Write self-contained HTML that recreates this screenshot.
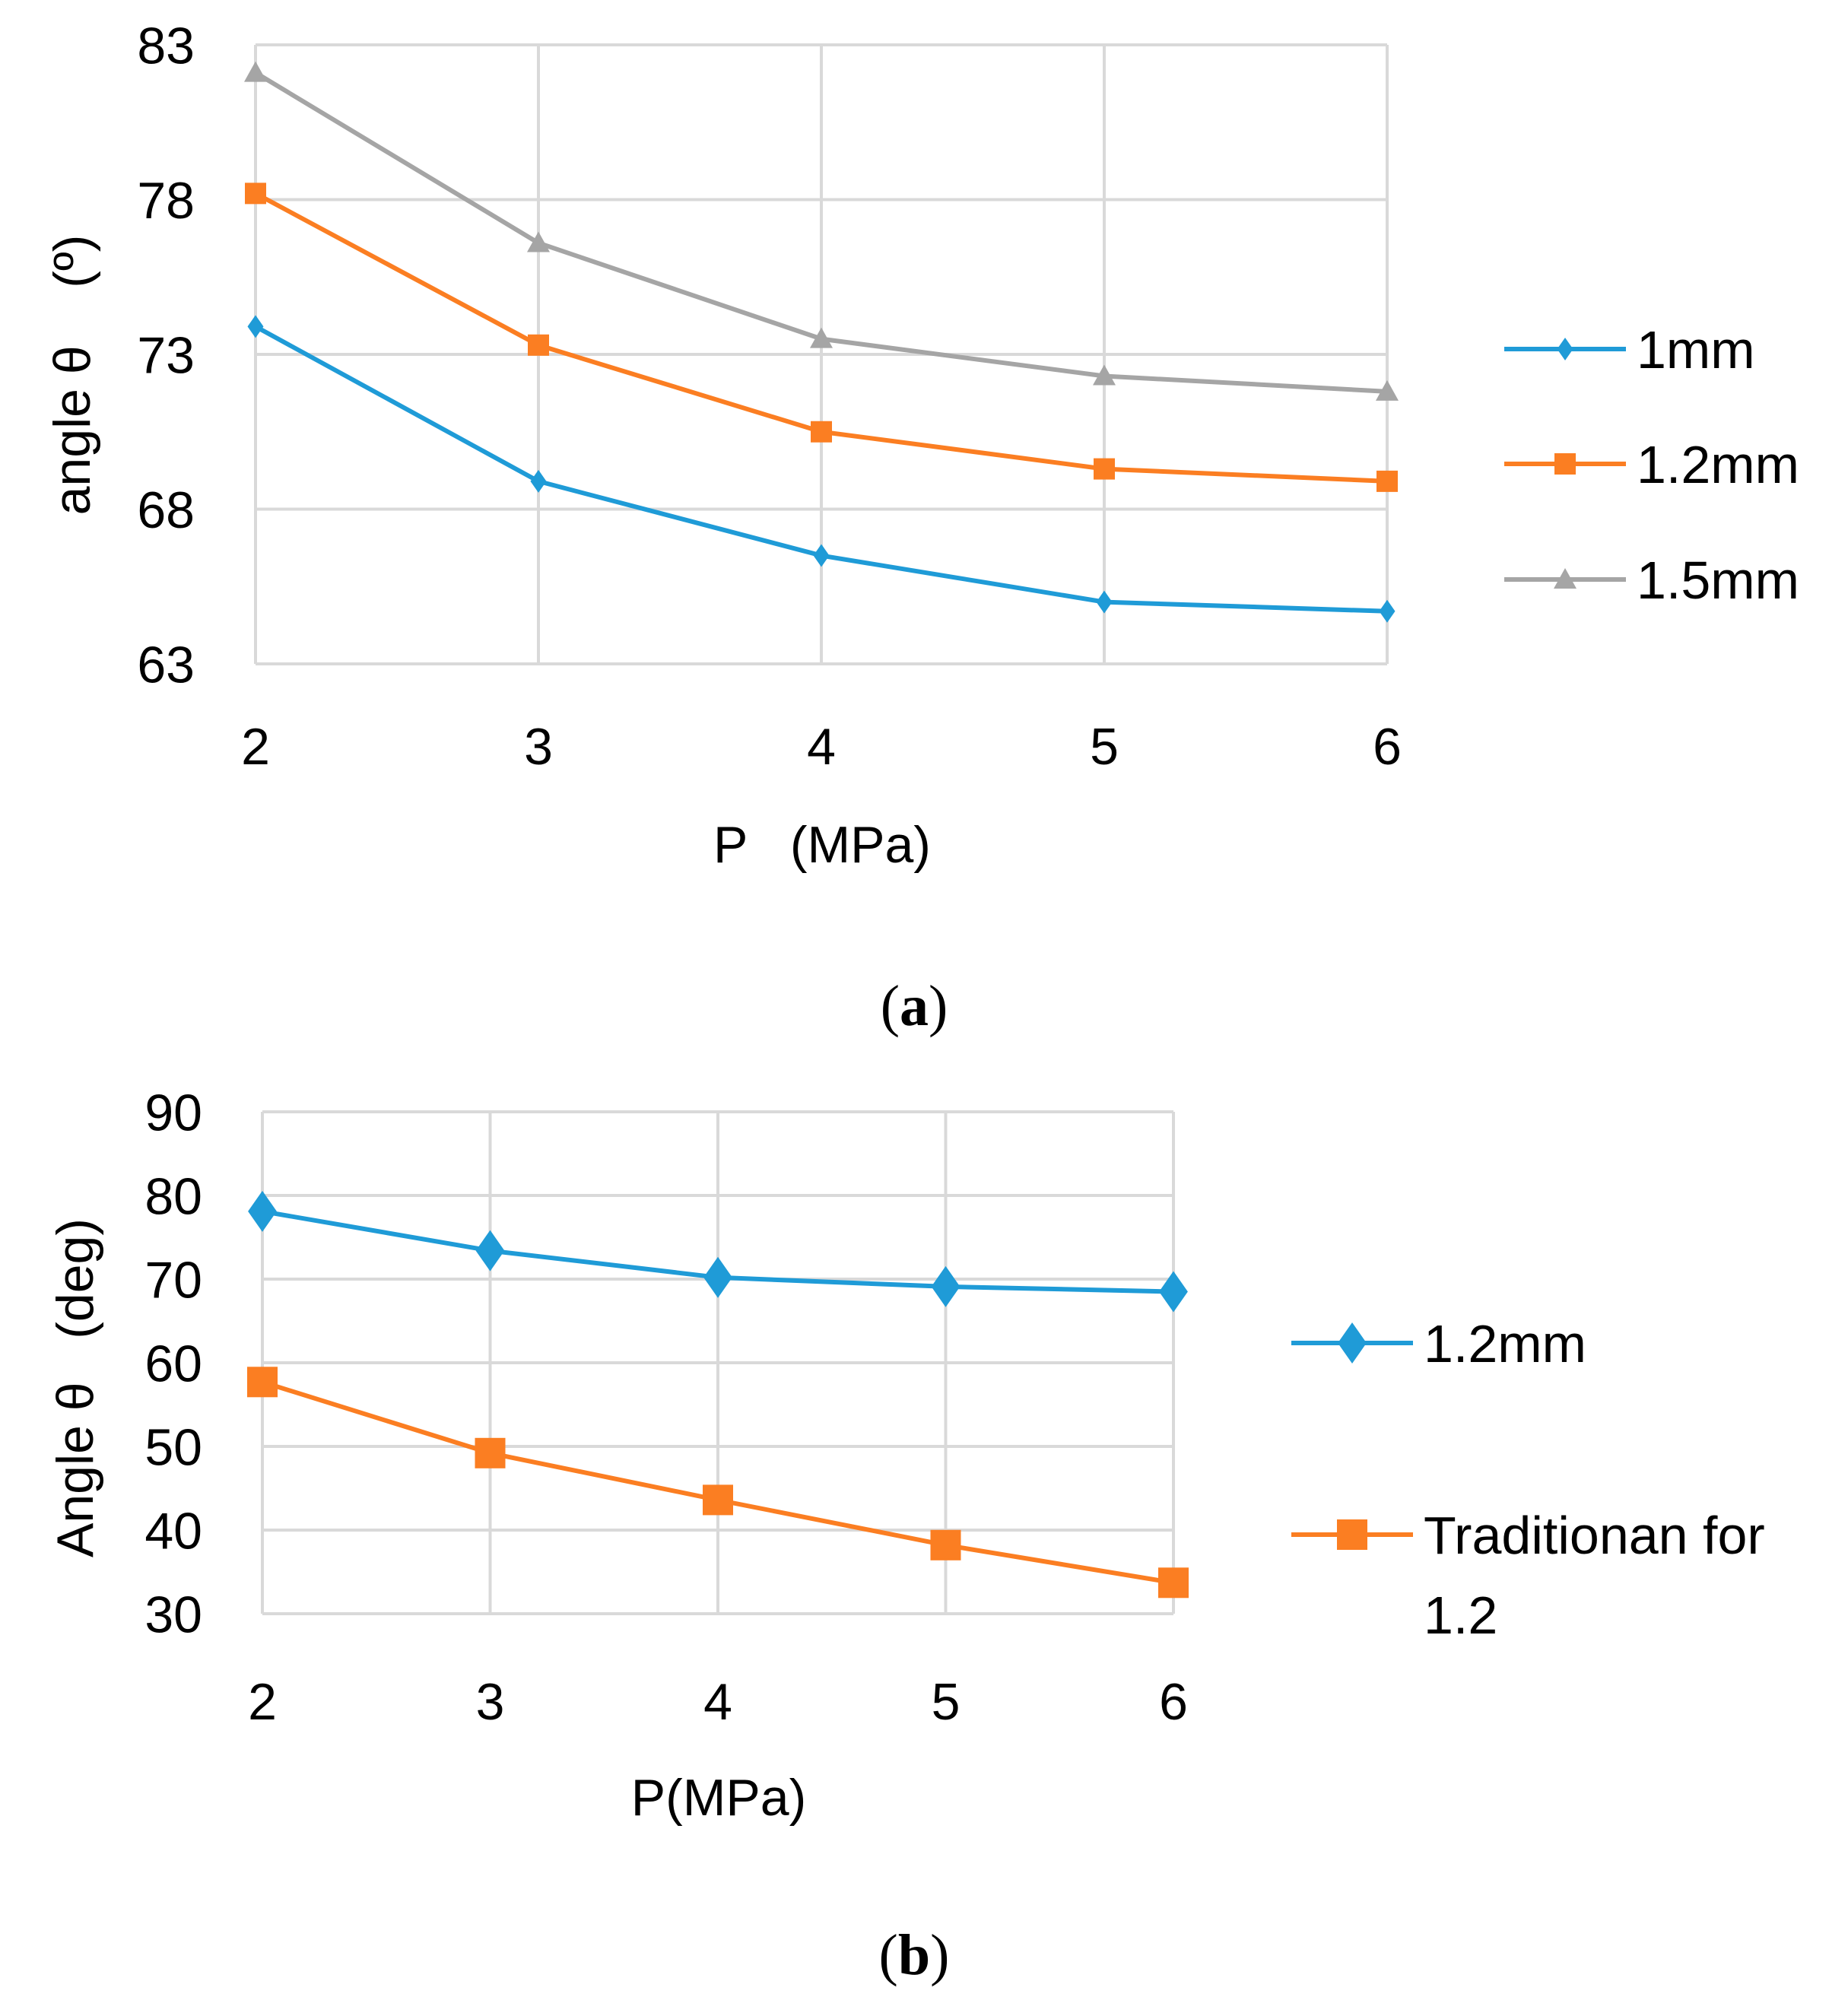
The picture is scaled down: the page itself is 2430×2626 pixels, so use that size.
<!DOCTYPE html>
<html><head><meta charset="utf-8"><style>
html,body{margin:0;padding:0;background:#fff;}
svg{display:block;font-family:"Liberation Sans",sans-serif;}
text{white-space:pre;}
</style></head><body>
<svg id="fig" width="2430" height="2626" viewBox="0 0 2430 2626">
<g id="chartA"></g>
<g id="chartB"></g>
<text x="1202" y="1348" text-anchor="middle" font-family="Liberation Serif,serif" font-size="76">(<tspan font-weight="bold">a</tspan>)</text>
<text x="1202" y="2596" text-anchor="middle" font-family="Liberation Serif,serif" font-size="76">(<tspan font-weight="bold">b</tspan>)</text>
</svg>
<script>
const catsA = [2,3,4,5,6];
const ticksA = [63,68,73,78,83];
const s1mm = [73.9,68.9,66.5,65.0,64.7];
const s12mm = [78.2,73.3,70.5,69.3,68.9];
const s15mm = [82.1,76.6,73.5,72.3,71.8];
const catsB = [2,3,4,5,6];
const ticksB = [30,40,50,60,70,80,90];
const b12mm = [78.1,73.4,70.2,69.1,68.5];
const bTrad = [57.7,49.2,43.6,38.2,33.7];

const NS="http://www.w3.org/2000/svg";
function mk(parent,tag,attrs){const e=document.createElementNS(NS,tag);for(const k in attrs)e.setAttribute(k,attrs[k]);parent.appendChild(e);return e;}
function marker(g,type,x,y,s,color){
  if(type==='diamond')return mk(g,'polygon',{points:`${x},${y-s} ${x+s*0.7},${y} ${x},${y+s} ${x-s*0.7},${y}`,fill:color});
  if(type==='square')return mk(g,'rect',{x:x-s,y:y-s,width:2*s,height:2*s,fill:color});
  return mk(g,'polygon',{points:`${x},${y-s} ${x+s},${y+s*0.8} ${x-s},${y+s*0.8}`,fill:color});
}
function chart(g,cfg){
  const xs=v=>cfg.x0+(v-cfg.cats[0])/(cfg.cats[cfg.cats.length-1]-cfg.cats[0])*(cfg.x1-cfg.x0);
  const ys=v=>cfg.y0-(v-cfg.ticks[0])/(cfg.ticks[cfg.ticks.length-1]-cfg.ticks[0])*(cfg.y0-cfg.y1);
  cfg.cats.forEach(c=>{
    const l=mk(g,'line',{x1:xs(c),x2:xs(c),y1:cfg.y1,y2:cfg.y0,stroke:'#d9d9d9','stroke-width':4});
    
    
    const t=mk(g,'text',{x:xs(c),y:cfg.xlabY,'text-anchor':'middle','font-size':cfg.fs});
    t.textContent=c;
    
    
  });
  cfg.ticks.forEach(v=>{
    const l=mk(g,'line',{x1:cfg.x0,x2:cfg.x1,y1:ys(v),y2:ys(v),stroke:'#d9d9d9','stroke-width':4});
    
    
    const t=mk(g,'text',{x:cfg.ylabX,y:ys(v)+cfg.fs*0.36,'text-anchor':'end','font-size':cfg.fs});
    t.textContent=v;
    
    
  });
  cfg.series.forEach(s=>{
    const pts=s.vals.map((v,i)=>xs(cfg.cats[i])+','+ys(v)).join(' ');
    const pl=mk(g,'polyline',{points:pts,fill:'none',stroke:s.color,'stroke-width':cfg.lw});
    
    
    s.vals.forEach((v,i)=>{
      const m=marker(g,s.type,xs(cfg.cats[i]),ys(v),cfg.ms[s.type],s.color);
      
      
    });
    const ll=mk(g,'line',{x1:cfg.legX0,x2:cfg.legX0+cfg.legW,y1:s.ly,y2:s.ly,stroke:s.color,'stroke-width':cfg.lw});
    
    
    const lm=marker(g,s.type,cfg.legX0+cfg.legW/2,s.ly,cfg.ms[s.type],s.color);
    
    
    s.label.forEach((txt,k)=>{
      const t=mk(g,'text',{x:cfg.legX0+cfg.legW+14,y:s.ly+cfg.lfs*0.36+k*cfg.lfs*1.5,'font-size':cfg.lfs});
      t.textContent=txt;
      
      
    });
  });
  const xt=mk(g,'text',{x:cfg.xtX,y:cfg.xtY,'text-anchor':'middle','font-size':cfg.fs});
  xt.textContent=cfg.xtitle;
  
  
  const yt=mk(g,'text',{x:0,y:0,'text-anchor':'middle','font-size':cfg.fs,transform:`translate(${cfg.ytX},${cfg.ytY}) rotate(-90)`});
  yt.textContent=cfg.ytitle;
  
  
}
chart(document.getElementById('chartA'),{
  cats:catsA,ticks:ticksA,x0:336,x1:1824,y0:873,y1:59,xlabY:1005,ylabX:256,fs:68,lw:6,
  ms:{diamond:15,square:14,triangle:15},
  series:[
    {name:'1mm',vals:s1mm,color:'#1f9bd7',type:'diamond',label:['1mm'],ly:459},
    {name:'1.2mm',vals:s12mm,color:'#fb7e22',type:'square',label:['1.2mm'],ly:610},
    {name:'1.5mm',vals:s15mm,color:'#a5a5a5',type:'triangle',label:['1.5mm'],ly:762}],
  legX0:1978,legW:160,lfs:70,xtitle:'P   (MPa)',xtX:1081,xtY:1134,ytitle:'angle θ    (º)',ytX:118,ytY:493
});
chart(document.getElementById('chartB'),{
  cats:catsB,ticks:ticksB,x0:345,x1:1543,y0:2122,y1:1462,xlabY:2261,ylabX:266,fs:68,lw:6,
  ms:{diamond:27,square:20,triangle:20},
  series:[
    {name:'1.2mm',vals:b12mm,color:'#1f9bd7',type:'diamond',label:['1.2mm'],ly:1766},
    {name:'traditional',vals:bTrad,color:'#fb7e22',type:'square',label:['Traditionan for','1.2'],ly:2018}],
  legX0:1698,legW:160,lfs:70,xtitle:'P(MPa)',xtX:945,xtY:2387,ytitle:'Angle θ   (deg)',ytX:122,ytY:1825
});
</script>
</body></html>
